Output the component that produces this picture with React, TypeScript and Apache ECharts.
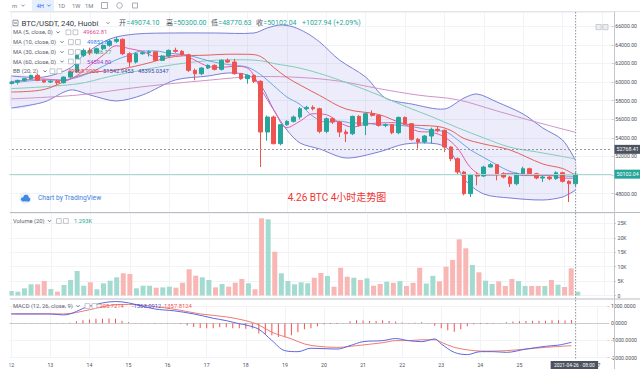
import React, { useEffect, useRef } from "react";
import * as echarts from "echarts";

const FONT = 'Roboto, "Noto Sans CJK SC", sans-serif';
const UP = "#26a69a";
const DOWN = "#ef5350";
const VOL_UP = "#a3dbd1";
const VOL_DOWN = "#f8b6b4";
const AX_COLOR = "#c9ccd3";
const GRID_COLOR = "#f2f3f6";
const LABEL_COLOR = "#4c505b";

// time slots (4H candles from 04-12 00:00), last 5 slots empty
const hours = ["00:00", "04:00", "08:00", "12:00", "16:00", "20:00"];
const slotCount = 92;
const categories: string[] = [];
for (let d = 12; categories.length < slotCount; d++) {
  for (const h of hours) if (categories.length < slotCount) categories.push(`04-${d} ${h}`);
}

// [open, close, low, high]
const candles: number[][] = [
  [59850, 60000, 59750, 60150], [60000, 60186, 59750, 60250], [60186, 60365, 60050, 60450], [60365, 60724, 60300, 60800],
  [60724, 60186, 60100, 60900], [60186, 60007, 59900, 60300], [60007, 60100, 59900, 60200], [60100, 59935, 59700, 60250],
  [59935, 60544, 59850, 60600], [60544, 61082, 60450, 61200], [61082, 62874, 61000, 63000], [62874, 63411, 62700, 63600],
  [63411, 63161, 62900, 63700], [63161, 63591, 63000, 63700], [63591, 63949, 63450, 64050], [63949, 64379, 63800, 64600],
  [64379, 64594, 64200, 64854], [64594, 63053, 62900, 64700], [63053, 62157, 61650, 63200], [62157, 63053, 62000, 63200],
  [63053, 63161, 62950, 63300], [63161, 63250, 62750, 63400], [63250, 62337, 62250, 63300], [62337, 62802, 62250, 62900],
  [62802, 63411, 62700, 63500], [63411, 63304, 63150, 63700], [63304, 62946, 62850, 63450], [62946, 61261, 61100, 63050],
  [61261, 60903, 60200, 61450], [60903, 61512, 60750, 61600], [61512, 61799, 61400, 61900], [61799, 61369, 61250, 61900],
  [61369, 62337, 61250, 62450], [62337, 62157, 62050, 62550], [62157, 60903, 60800, 62500], [60903, 60365, 60250, 61000],
  [60365, 60724, 59830, 60800], [60724, 60078, 59900, 60850], [60078, 54631, 50867, 60200], [54631, 56244, 53700, 56400],
  [56244, 53376, 53300, 56400], [53376, 55419, 53200, 55500], [55419, 55778, 55300, 55900], [55778, 56244, 55650, 56400],
  [56244, 57140, 56000, 57300], [57140, 57280, 57000, 57450], [57280, 57140, 56950, 57500], [57140, 54702, 54500, 57250],
  [54702, 56064, 54500, 56200], [56064, 55706, 55500, 56200], [55706, 54631, 54093, 55800], [54631, 54451, 53556, 54900],
  [54451, 56315, 54300, 56400], [56315, 55347, 55200, 56450], [55347, 56602, 54300, 56700], [56602, 56423, 56300, 56960],
  [56423, 55347, 55200, 56500], [55347, 55420, 55150, 55550], [55420, 54559, 54400, 55450], [54559, 56200, 54400, 56300],
  [56200, 55527, 55400, 56300], [55527, 53842, 53700, 55600], [53842, 53556, 52839, 54000], [53556, 54201, 53400, 54300],
  [54201, 54917, 53400, 55100], [54917, 54810, 54600, 55240], [54810, 53018, 52480, 54900], [53018, 51764, 51500, 53100],
  [51764, 50330, 50100, 51900], [50330, 48000, 47821, 50450], [48000, 50043, 47642, 50150], [50043, 49900, 48897, 50300],
  [49900, 50867, 49800, 51000], [50867, 51118, 50850, 51300], [51118, 50151, 49434, 51200], [50151, 49792, 49650, 50300],
  [49792, 49074, 48717, 49900], [49074, 50151, 48900, 50250], [50151, 50688, 50000, 50900], [50688, 50151, 50000, 50800],
  [50151, 49685, 49550, 50250], [49685, 49792, 49255, 49900], [49792, 49613, 49450, 49900], [49613, 50258, 49500, 50400],
  [50258, 49327, 49200, 50350], [49327, 49074, 47104, 49450], [49074.1, 50102.04, 48770.63, 50300.0],
];

const volumes: number[] = [
  1560, 1320, 2500, 3890, 3890, 5035, 2260, 1320, 3645, 5380,
  8505, 3400, 4580, 2150, 4240, 5140, 6320, 7710, 7465, 2500,
  3400, 3400, 2710, 2830, 3070, 2710, 4440, 9100, 6875, 6320,
  5380, 2830, 3990, 3070, 4440, 5730, 4240, 2150, 26800, 26450,
  15200, 7710, 5035, 3890, 4580, 4240, 6180, 7800, 6770, 3055,
  9650, 6530, 6180, 5380, 5960, 3400, 3990, 4790, 4400, 4990,
  3300, 4400, 9650, 4170, 6830, 4900, 10000, 12330, 19500, 16380,
  10590, 8050, 5140, 3990, 4900, 3300, 5720, 4990, 3300, 3300,
  3300, 3300, 5380, 3760, 2950, 9420, 1293,
];

const macdHist: number[] = [
  20, 10, -10, 15, 10, 0, -15, -10, 10, 30,
  120, 180, 220, 260, 260, 280, 260, 150, 60, 20,
  -10, 10, -30, -20, 10, 20, -40, -130, -220, -280,
  -290, -290, -230, -230, -290, -290, -320, -300, -600, -650,
  -700, -800, -815, -700, -520, -350, -290, -170, -60, -40,
  -50, -20, 110, 180, 160, 130, 130, 170, 130, 100,
  40, -10, 30, 60, -20, -140, -290, -400, -490, -350,
  -170, -60, -40, -50, -30, 20, 60, 100, 120, 130,
  140, 150, 150, 170, 180, 160, 190,
];

const macdLine: number[][] = [
  [0, 540], [6, 540], [8, 480], [12, 990], [16, 1260], [18, 1180], [22, 830], [25, 720], [28, 540], [31, 290],
  [33, 150], [35, -30], [36, -100], [38, -350], [40, -1000], [42, -1590], [44, -1650], [46, -1450], [50, -1500],
  [52, -1300], [54, -1070], [57, -1010], [59, -890], [61, -1010], [63, -1070], [65, -913], [66, -1200], [68, -1690],
  [70, -1820], [72, -1650], [74, -1650], [76, -1690], [79, -1500], [82, -1340], [84, -1270], [86, -1105],
];
const macdSignal: number[][] = [
  [0, 540], [8, 540], [12, 780], [15, 1030], [18, 1090], [23, 920], [26, 750], [29, 540], [33, 370], [36, 150],
  [38, -100], [40, -520], [43, -907], [45, -1200], [47, -1335], [50, -1400], [53, -1300], [57, -1130], [59, -1010],
  [61, -1010], [63, -960], [65, -960], [66, -1100], [68, -1400], [71, -1590], [73, -1620], [76, -1590], [79, -1500],
  [82, -1400], [86, -1300],
];

const bbUpper: number[][] = [
  [0, 60656], [5, 60550], [9, 61516], [11, 62914], [15, 64634], [19, 65172], [25, 65280], [31, 65280], [37, 65280],
  [39, 65817], [41, 66140], [43, 65925], [45, 65280], [47, 64312], [50, 62377], [54, 60549], [57, 58290], [61, 57645],
  [66, 57108], [69, 58290], [71, 58720], [74, 57860], [78, 56570], [81, 55065], [84, 53774], [86, 51543],
];
const bbLower: number[][] = [
  [0, 57215], [5, 57860], [9, 59150], [12, 58613], [16, 57968], [20, 58613], [25, 60226], [30, 60656], [33, 60979],
  [36, 60764], [38, 59690], [40, 57000], [42, 54850], [44, 53452], [47, 52807], [51, 51839], [56, 52484], [60, 53344],
  [65, 53344], [67, 52484], [69, 49581], [72, 47968], [76, 47538], [81, 47323], [84, 47645], [86, 48395],
];
const bbBasis: number[][] = [
  [0, 58935], [5, 59205], [9, 60333], [12, 61000], [16, 61300], [20, 61890], [25, 62753], [30, 62900], [33, 63000],
  [36, 62990], [38, 62750], [40, 61570], [42, 60500], [44, 59690], [47, 58560], [51, 57108], [56, 56517], [60, 55494],
  [65, 55226], [67, 54796], [69, 53936], [72, 53344], [76, 52699], [81, 51194], [84, 50710], [86, 49969],
];
const ma5: number[][] = [
  [0, 60050], [2, 60200], [4, 60350], [6, 60280], [8, 60150], [10, 60700], [12, 61800], [14, 62900], [16, 63900],
  [18, 63600], [20, 63300], [22, 62750], [24, 62800], [26, 62950], [28, 62350], [30, 61700], [32, 61580], [34, 61700],
  [36, 61500], [38, 59300], [40, 57000], [42, 55100], [44, 55800], [46, 56600], [48, 56500], [50, 55650], [52, 55170],
  [54, 55470], [56, 55600], [58, 55640], [60, 55430], [62, 54700], [64, 54600], [66, 54100], [68, 52900], [70, 50800],
  [72, 50000], [74, 50000], [76, 50200], [78, 49950], [80, 49950], [82, 50000], [84, 49670], [86, 49663],
];
const ma10: number[][] = [
  [0, 59900], [4, 60200], [8, 60250], [10, 60500], [12, 61000], [14, 61700], [16, 62400], [18, 62900], [20, 63350],
  [22, 63350], [24, 63100], [26, 63000], [28, 62700], [30, 62300], [32, 62000], [34, 61800], [36, 61600], [38, 60800],
  [40, 59600], [42, 58400], [44, 57600], [46, 56300], [48, 55700], [50, 55800], [52, 55600], [54, 55600], [56, 55400],
  [58, 55400], [60, 55300], [62, 55100], [64, 54800], [66, 54700], [68, 53800], [70, 52700], [72, 51900], [74, 51100],
  [76, 50400], [78, 50100], [80, 50000], [82, 49950], [84, 49900], [86, 49853],
];
const ma30: number[][] = [
  [0, 59300], [10, 59800], [15, 60600], [20, 61300], [25, 61900], [30, 62300], [35, 62400], [38, 62300], [40, 62000],
  [44, 61500], [48, 60700], [52, 59700], [56, 58600], [60, 57400], [64, 56300], [68, 55100], [72, 54000], [76, 53000],
  [80, 52500], [84, 52000], [86, 51726],
];
const ma60: number[][] = [
  [0, 58200], [10, 58600], [20, 59500], [30, 60200], [38, 60600], [44, 60500], [50, 60100], [56, 59300], [62, 58600],
  [68, 58100], [74, 56900], [80, 55700], [86, 54595],
];

const lastIndex = 86;
const crossPrice = 52768.41;
const lastClose = 50102.04;

function lineSeries(data: number[][], color: string, xi: number, z = 2, extra: any = {}) {
  return {
    type: "line", data, xAxisIndex: xi, yAxisIndex: xi, symbol: "none", smooth: 0.35, silent: true, z,
    lineStyle: { width: 1, color }, ...extra,
  };
}

function buildOption(): any {
  const grids = [
    { left: 8, right: 26, top: 12, height: 200.3 },
    { left: 8, right: 26, top: 213, height: 82.5 },
    { left: 8, right: 26, top: 306, height: 51.7 },
  ];
  const xAxis = [0, 1, 2].map((gi) => ({
    type: "category", gridIndex: gi, data: categories, boundaryGap: true,
    axisLine: { show: gi === 2, lineStyle: { color: AX_COLOR } },
    axisTick: { show: false },
    axisLabel: gi === 2
      ? { interval: (i: number) => i % 6 === 0 && i !== 84, formatter: (_v: string, i: number) => String(12 + i / 6),
          fontSize: 5.2, color: LABEL_COLOR, margin: 5, fontFamily: FONT }
      : { show: false },
    splitLine: { show: true, interval: (i: number) => i % 6 === 0, alignWithLabel: true, lineStyle: { color: GRID_COLOR, width: 1 } },
  }));
  const yLabel = (fmt: (v: number) => string, extra: any = {}) => ({
    fontSize: 5.2, color: LABEL_COLOR, margin: 3.5, fontFamily: FONT, formatter: fmt, ...extra,
  });
  const yAxis = [
    { type: "value", gridIndex: 0, position: "right", min: 46000, max: 67537, interval: 2000,
      axisLine: { show: false }, axisTick: { show: true, length: 2, lineStyle: { color: AX_COLOR } },
      axisLabel: yLabel((v) => (v === 50000 ? "" : v.toFixed(2)), { showMinLabel: false, showMaxLabel: false }),
      splitLine: { lineStyle: { color: GRID_COLOR } } },
    { type: "value", gridIndex: 1, position: "right", min: 0, max: 28645, interval: 5000,
      axisLine: { show: false }, axisTick: { show: true, length: 2, lineStyle: { color: AX_COLOR } },
      axisLabel: yLabel((v) => (v === 0 ? "0" : v / 1000 + "K"), { showMaxLabel: false }),
      splitLine: { lineStyle: { color: GRID_COLOR } } },
    { type: "value", gridIndex: 2, position: "right", min: -2000, max: 1000, interval: 1000,
      axisLine: { show: false }, axisTick: { show: true, length: 2, lineStyle: { color: AX_COLOR } },
      axisLabel: yLabel((v) => v.toFixed(4)),
      splitLine: { lineStyle: { color: GRID_COLOR } } },
  ];

  const volData = volumes.map((v, i) => ({
    value: v, itemStyle: { color: candles[i][1] >= candles[i][0] ? VOL_UP : VOL_DOWN },
  }));

  const series: any[] = [
    {
      type: "custom", name: "BB", xAxisIndex: 0, yAxisIndex: 0, data: [[0, 55000]], encode: { x: 0, y: 1 },
      silent: true, z: 1,
      renderItem: (_p: any, api: any) => {
        const up = bbUpper.map(([i, v]) => api.coord([i, v]));
        const lo = bbLower.map(([i, v]) => api.coord([i, v]));
        return {
          type: "group",
          children: [
            { type: "polygon", shape: { points: up.concat(lo.slice().reverse()), smooth: 0.3 },
              style: { fill: "rgba(118,122,222,0.14)", stroke: "none" } },
            { type: "polyline", shape: { points: up, smooth: 0.3 }, style: { fill: "none", stroke: "#7b7fd8", lineWidth: 1 } },
            { type: "polyline", shape: { points: lo, smooth: 0.3 }, style: { fill: "none", stroke: "#7b7fd8", lineWidth: 1 } },
          ],
        };
      },
    },
    lineSeries(ma60, "#cf93c8", 0),
    lineSeries(ma30, "#82cdb6", 0),
    lineSeries(bbBasis, "#e0625e", 0),
    lineSeries(ma10, "#6aa6e6", 0),
    lineSeries(ma5, "#e35ea7", 0),
    {
      type: "candlestick", xAxisIndex: 0, yAxisIndex: 0, data: candles, barWidth: 4.2, z: 3, silent: true,
      itemStyle: { color: UP, color0: DOWN, borderColor: UP, borderColor0: DOWN, borderWidth: 1 },
      markLine: {
        silent: true, symbol: ["none", "none"], label: { show: false }, animation: false,
        data: [
          { yAxis: lastClose, lineStyle: { color: "#a5dbcf", type: "solid", width: 1 } },
          { yAxis: crossPrice, lineStyle: { color: "#9598a1", type: [2, 2], width: 1 } },
        ],
      },
    },
    { type: "bar", xAxisIndex: 1, yAxisIndex: 1, data: volData, barWidth: 5, silent: true },
    { type: "bar", xAxisIndex: 2, yAxisIndex: 2, data: macdHist, barWidth: 1, silent: true, itemStyle: { color: "#ef5350" } },
    lineSeries(macdSignal, "#f07a72", 2, 3, { clip: false }),
    lineSeries(macdLine, "#5d68e0", 2, 4, { clip: false }),
  ];

  return {
    animation: false,
    backgroundColor: "#ffffff",
    textStyle: { fontFamily: FONT },
    grid: grids,
    xAxis,
    yAxis,
    series,
  };
}

function buildGraphic(chart: any): any[] {
  const cx = chart.convertToPixel({ xAxisIndex: 0 }, lastIndex) as number;
  const yCross = chart.convertToPixel({ yAxisIndex: 0 }, crossPrice) as number;
  const yPrice = chart.convertToPixel({ yAxisIndex: 0 }, lastClose) as number;
  const els: any[] = [];
  const txt = (x: number, y: number, text: string, fill: string, size = 5.8, extra: any = {}) =>
    els.push({ type: "text", x, y, z: 100, silent: true,
      style: { text, fill, fontSize: size, fontFamily: FONT, verticalAlign: "middle", textVerticalAlign: "middle", ...extra } });
  const line = (x1: number, y1: number, x2: number, y2: number, stroke: string, dash?: number[], z = 60) =>
    els.push({ type: "line", z, silent: true, shape: { x1, y1, x2, y2 }, style: { stroke, lineWidth: 1, lineDash: dash } });
  const rect = (x: number, y: number, w: number, h: number, fill: string, stroke = "none", z = 95) =>
    els.push({ type: "rect", z, silent: true, shape: { x, y, width: w, height: h }, style: { fill, stroke, lineWidth: 0.8 } });
  const chev = (x: number, y: number, c: string) =>
    els.push({ type: "polyline", z: 100, silent: true, shape: { points: [[x - 1.6, y - 0.9], [x, y + 0.8], [x + 1.6, y - 0.9]] },
      style: { stroke: c, fill: "none", lineWidth: 0.8 } });
  const icons = (x: number, y: number) => {
    rect(x, y - 2.4, 4.8, 4.8, "#ffffff", "#b5b8c0", 100);
    rect(x + 7, y - 2.4, 4.8, 4.8, "#ffffff", "#b5b8c0", 100);
  };

  // left margin cover
  rect(0, 0, 9.5, 369, "#ffffff", "none", 90);
  // toolbar
  rect(10, 0, 630, 11.5, "#ffffff", "none", 90);
  rect(32, 0, 22, 11, "#e6effc", "none", 95);
  txt(12, 5.5, "m", "#787b86", 5.8);
  chev(23, 5.5, "#787b86");
  txt(36.5, 5.5, "4H", "#2962ff", 5.8);
  chev(49, 5.5, "#2962ff");
  txt(58, 5.5, "1D", "#787b86", 5.8);
  txt(72, 5.5, "1W", "#787b86", 5.8);
  txt(85, 5.5, "1M", "#787b86", 5.8);
  rect(101.5, 2.5, 6, 6, "none", "#9598a1", 100);
  els.push({ type: "circle", z: 100, silent: true, shape: { cx: 119.5, cy: 5.5, r: 2.8 }, style: { fill: "none", stroke: "#9598a1", lineWidth: 0.8 } });
  rect(132.5, 3, 5, 5, "none", "#9598a1", 100);
  line(10, 11.5, 640, 11.5, "#e3e5ea", undefined, 96);

  // main legend
  rect(13, 20.2, 5, 5.5, "none", "#787b86", 100);
  line(14, 23, 17, 23, "#787b86", undefined, 100);
  txt(21.5, 23, "BTC/USDT, 240, Huobi", "#363a45", 7.8);
  chev(108, 23, "#787b86");
  const ohlc: [number, string, string][] = [[119, "开", "=49074.10"], [166, "高", "=50300.00"], [211, "低", "=48770.63"], [256, "收", "=50102.04"]];
  ohlc.forEach(([x, k, v]) => { txt(x, 23, k, "#4c525e", 7); txt(x + 7.3, 23, v, UP, 7); });
  txt(302, 23, "+1027.94 (+2.09%)", UP, 7);

  const LG = "#5d606b";
  txt(13, 32.3, "MA (5, close, 0)", LG); chev(58, 32.3, LG); icons(66, 32.3); txt(83, 32.3, "49662.81", "#e0489b");
  txt(13, 42, "MA (10, close, 0)", LG); chev(62, 42, LG); icons(68.5, 42); txt(87, 42, "49852.84", "#2f80ed");
  txt(13, 52, "MA (30, close, 0)", LG); chev(62, 52, LG); icons(68.5, 52); txt(87, 52, "51726.17", "#3aa76d");
  txt(13, 61.5, "MA (60, close, 0)", LG); chev(62, 61.5, LG); icons(68.5, 61.5); txt(87, 61.5, "54594.80", "#a33fbf");
  txt(13, 71.2, "BB (20, 2)", LG); chev(45, 71.2, LG); icons(50, 71.2);
  txt(68, 71.2, "49968.9900", "#e53935"); txt(103, 71.2, "51542.9453", "#3949ab"); txt(138, 71.2, "48395.0347", "#3949ab");

  // watermark + title
  els.push({ type: "circle", z: 99, silent: true, shape: { cx: 25, cy: 198, r: 6 }, style: { fill: "#eef2f9" } });
  const CL = "#3f8ae0";
  els.push({ type: "circle", z: 100, silent: true, shape: { cx: 23, cy: 199.3, r: 2.1 }, style: { fill: CL } });
  els.push({ type: "circle", z: 100, silent: true, shape: { cx: 26, cy: 197.4, r: 2.7 }, style: { fill: CL } });
  els.push({ type: "circle", z: 100, silent: true, shape: { cx: 28.4, cy: 199.5, r: 1.9 }, style: { fill: CL } });
  rect(22.6, 199.3, 6, 2.1, CL, "none", 100);
  txt(38, 198, "Chart by TradingView", "#3f7fdc", 6.7);
  txt(337, 197.5, "4.26 BTC 4小时走势图", "#ee3431", 10, { textAlign: "center" });

  // volume / macd legends
  txt(13, 221, "Volume (20)", LG); chev(49.5, 221, LG); icons(56.5, 221); txt(74, 221, "1.293K", UP);
  txt(13, 306, "MACD (12, 26, close, 9)", LG); chev(78, 306, LG); icons(85, 306);
  txt(99.5, 306, "205.7214", "#ef5350"); txt(132, 306, "-1563.0912", "#3f51d5"); txt(162.5, 306, "-1357.8124", "#ef5350");

  // pane separators, right axis line
  line(10, 212.5, 640, 212.5, "#b9bcc4", undefined, 96);
  line(10, 299, 640, 299, "#b9bcc4", undefined, 96);
  line(614.5, 11.5, 614.5, 369, "#c3c6cd", undefined, 96);

  // crosshair
  line(cx, 12, cx, 360, "#8e929c", [1.5, 1.5], 97);
  rect(614.5, yCross - 4.5, 25.5, 9, "#4c525e", "none", 98);
  txt(616.5, yCross, crossPrice.toFixed(2), "#ffffff", 5.3);
  rect(614.5, yPrice - 4.5, 25.5, 9, UP, "none", 98);
  txt(616.5, yPrice, lastClose.toFixed(2), "#ffffff", 5.3);
  rect(cx - 25, 361, 47.5, 8.5, "#4c525e", "none", 98);
  txt(cx - 1.3, 365.3, "2021-04-26 · 08:00", "#ffffff", 4.9, { textAlign: "center" });

  // top-right small buttons
  rect(596, 24.5, 5.2, 5.2, "#eceef2", "#c0c3ca", 100);
  rect(602.8, 24.5, 5.2, 5.2, "#eceef2", "#c0c3ca", 100);
  return els;
}

export default function App() {
  const ref = useRef<HTMLDivElement>(null);
  useEffect(() => {
    if (!ref.current) return;
    const chart = echarts.init(ref.current, null, { renderer: "svg" });
    chart.setOption(buildOption());
    chart.setOption({ graphic: buildGraphic(chart) });
    return () => chart.dispose();
  }, []);
  return (
    <div
      ref={ref}
      style={{ position: "fixed", left: 0, top: 0, width: 640, height: 369, background: "#fff" }}
    />
  );
}
